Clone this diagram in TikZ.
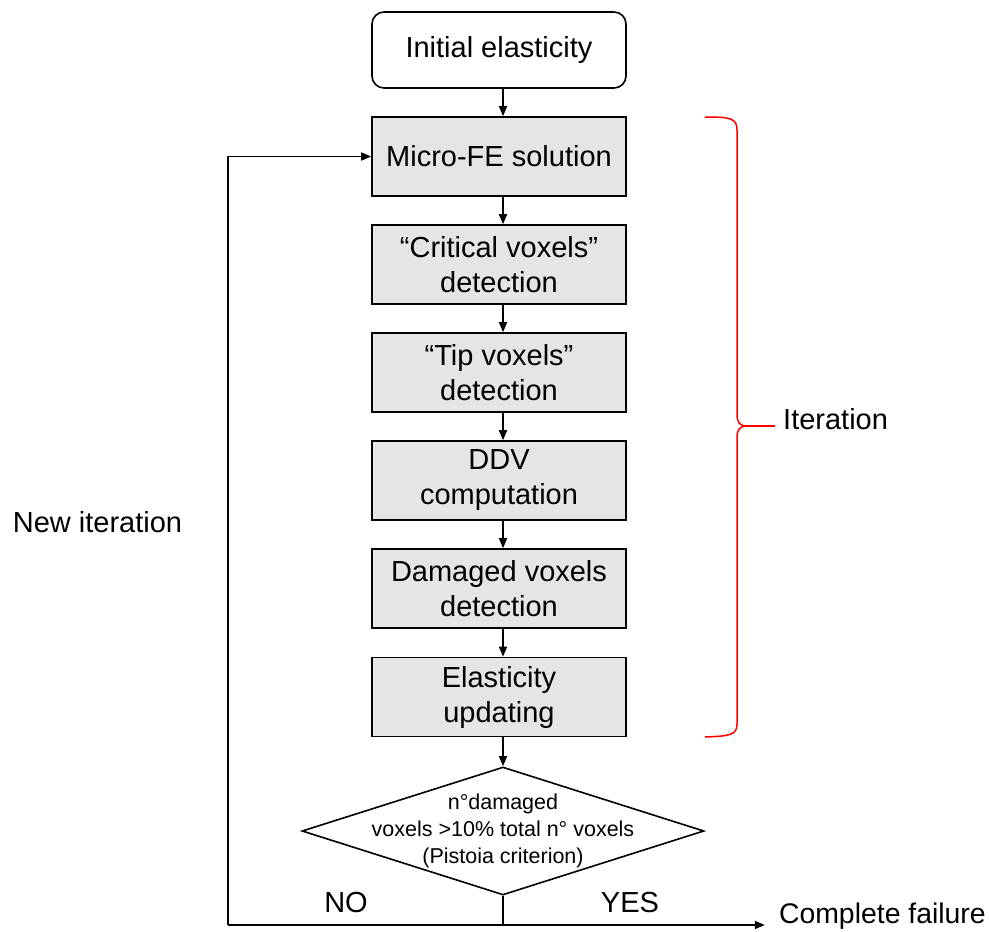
\documentclass[tikz,border=0pt]{standalone}
\usepackage{fontspec}
\setmainfont{Liberation Sans}
\usetikzlibrary{arrows.meta,shapes.geometric,calc}
\begin{document}
\begin{tikzpicture}[x=1pt,y=-1pt,
  every node/.style={font=\fontsize{29}{35}\selectfont},
  procbox/.style={draw, line width=1.6pt, fill=gray!20, minimum width=254pt, minimum height=79pt, inner sep=0pt, align=center},
  startbox/.style={draw, line width=1.6pt, rounded corners=12pt, minimum width=254pt, minimum height=76pt, inner sep=0pt, align=center},
  arr/.style={line width=1.6pt, -{Triangle[length=10pt,width=8pt]}},
  plain/.style={line width=1.6pt},
  lbl/.style={inner sep=0pt}
]
\useasboundingbox (0,0) rectangle (989,932);
\node[startbox] (init) at (499,50) {Initial elasticity};
\node[procbox] (micro) at (499,156.5) {Micro-FE solution};
\node[procbox] (crit) at (499,264.5) {“Critical voxels”\\detection};
\node[procbox] (tip) at (499,372.5) {“Tip voxels”\\detection};
\node[procbox] (ddv) at (499,480.5) {DDV\\computation};
\node[procbox] (dam) at (499,588.5) {Damaged voxels\\detection};
\node[procbox] (elas) at (499,697) {Elasticity\\updating};
\node[diamond, draw, line width=1.6pt, minimum width=402pt, minimum height=128pt, inner sep=0pt] (dia) at (503,831) {};
\node[align=center, inner sep=0pt, font=\fontsize{21.5}{26.7}\selectfont] (diatext) at (dia.center) {n°damaged\\voxels >10\% total n° voxels\\(Pistoia criterion)};
\coordinate (bl) at (228,925);
\node[lbl, anchor=east, font=\fontsize{28.4}{34}\selectfont] (fail) at (986,916) {Complete failure};
\node[lbl] (no) at (346,903) {NO};
\node[lbl] (yes) at (630,903) {YES};
\node[lbl] (newit) at (97.5,522) {New iteration};
\node[lbl, anchor=west] (iter) at (783,419) {Iteration};

\draw[arr] (init.south -| dia.north) -- (micro.north -| dia.north);
\draw[arr] (micro.south -| dia.north) -- (crit.north -| dia.north);
\draw[arr] (crit.south -| dia.north) -- (tip.north -| dia.north);
\draw[arr] (tip.south -| dia.north) -- (ddv.north -| dia.north);
\draw[arr] (ddv.south -| dia.north) -- (dam.north -| dia.north);
\draw[arr] (dam.south -| dia.north) -- (elas.north -| dia.north);
\draw[arr] (elas.south -| dia.north) -- (dia.north);
\draw[plain] (dia.south) -- (dia.south |- bl);
\draw[arr] (bl) |- (micro.west);
\draw[arr] (bl) -- ([xshift=-14pt]fail.west |- bl);

\draw[red, line width=1.5pt]
  (705,117) .. controls (730,117) and (737,118) .. (737,130)
  -- (737,414) .. controls (737,423) and (740,426) .. (747,426)
  .. controls (740,426) and (737,429) .. (737,438)
  -- (737,724) .. controls (737,735) and (730,736) .. (705,737);
\draw[red, line width=1.5pt] (747,426) -- (775,426);
\end{tikzpicture}
\end{document}
